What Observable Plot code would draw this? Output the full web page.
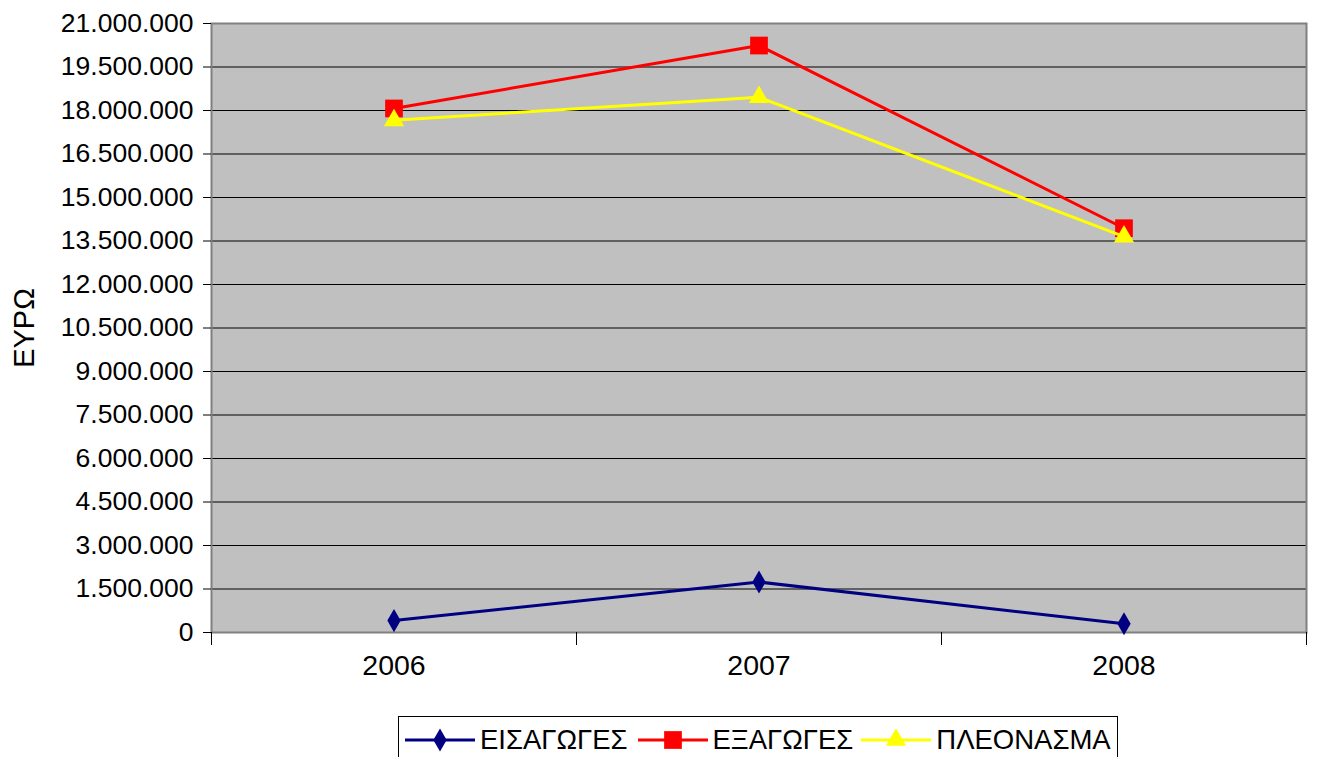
<!DOCTYPE html>
<html>
<head>
<meta charset="utf-8">
<script src="https://cdn.jsdelivr.net/npm/d3@7"></script>
<script src="https://cdn.jsdelivr.net/npm/@observablehq/plot@0.6"></script>
<style>
  html, body { margin: 0; padding: 0; background: #fff; }
  body { width: 1317px; height: 757px; overflow: hidden; position: relative; font-family: "Liberation Sans", Arial, sans-serif; }
  #legend { position: absolute; left: 398px; top: 716px; width: 720px; height: 50px; border: 1px solid #000; box-sizing: border-box; display: flex; align-items: flex-start; padding-top: 8px; }
  #legend .item { display: flex; align-items: center; font-size: 27.5px; color: #000; line-height: 30px; }
  #legend svg { display: block; }
</style>
</head>
<body>
<div id="chart"></div>
<div id="legend"></div>
<script>
const years = [2006, 2007, 2008];
const seriesNames = ["ΕΙΣΑΓΩΓΕΣ", "ΕΞΑΓΩΓΕΣ", "ΠΛΕΟΝΑΣΜΑ"];
const imports = [410000, 1740000, 300000];
const exportsV = [18070000, 20240000, 13940000];
const surplus = [17660000, 18460000, 13650000];
const yTicks = d3.range(0, 21000001, 1500000);

const colors = ["#000080", "#FF0000", "#FFFF00"];
const symbols = ["diamond", "square", "triangle"];
const radii = [7, 10, 7.5];
const values = [imports, exportsV, surplus];

const locale = d3.formatLocale({decimal: ",", thousands: ".", grouping: [3], currency: ["", " €"]});
const fmt = locale.format(",d");

const series = seriesNames.map((name, i) => years.map((yr, j) => ({series: name, year: yr, value: values[i][j]})));
const boundaries = years.map(y => y - 0.5).concat([years[years.length - 1] + 0.5]);

const marks = [
  Plot.frame({fill: "#C0C0C0", stroke: null}),
  Plot.gridY(yTicks.slice(1, -1), {stroke: "#000", strokeOpacity: 1, strokeWidth: 1}),
  Plot.frame({stroke: "#808080", strokeWidth: 2}),
  Plot.axisY(yTicks, {tickSize: 8, tickPadding: 10, tickFormat: fmt, fontSize: 26.5, label: null, stroke: "#000"}),
  Plot.axisX(boundaries, {tickSize: 13, tickFormat: () => "", label: null, stroke: "#000"}),
  Plot.axisX(years, {tickSize: 0, tickPadding: 22, tickFormat: d => String(d), fontSize: 28.5, label: null}),
  Plot.text(["ΕΥΡΩ"], {frameAnchor: "left", textAnchor: "middle", dx: -187, rotate: -90, fontSize: 29, fill: "#000"})
];
series.forEach((s, i) => {
  marks.push(Plot.line(s, {x: "year", y: "value", stroke: colors[i], strokeWidth: 3}));
  marks.push(Plot.dot(s, {x: "year", y: "value", symbol: () => symbols[i], r: radii[i], fill: colors[i], stroke: null}));
});

const chart = Plot.plot({
  width: 1317,
  height: 700,
  marginLeft: 211,
  marginRight: 11,
  marginTop: 23,
  marginBottom: 68,
  style: {fontFamily: "'Liberation Sans', Arial, sans-serif", color: "#000", background: "#fff", overflow: "visible"},
  x: {domain: [years[0] - 0.5, years[years.length - 1] + 0.5], axis: null},
  y: {domain: [0, 21000000], axis: null},
  symbol: {type: "identity"},
  marks
});
document.getElementById("chart").appendChild(chart);

// Legend
const legend = document.getElementById("legend");
const swW = 70, swH = 30;
const gaps = [6, 10, 8];
seriesNames.forEach((name, i) => {
  const item = document.createElement("div");
  item.className = "item";
  item.style.marginLeft = gaps[i] + "px";
  const svg = d3.create("svg").attr("width", swW).attr("height", swH);
  svg.append("line").attr("x1", 0).attr("x2", swW).attr("y1", swH / 2).attr("y2", swH / 2)
    .attr("stroke", colors[i]).attr("stroke-width", 3);
  const sym = {diamond: d3.symbolDiamond, square: d3.symbolSquare, triangle: d3.symbolTriangle}[symbols[i]];
  svg.append("path").attr("transform", `translate(${swW / 2},${swH / 2})`)
    .attr("d", d3.symbol(sym, Math.PI * radii[i] * radii[i])()).attr("fill", colors[i]);
  item.appendChild(svg.node());
  const span = document.createElement("span");
  span.textContent = name;
  span.style.marginLeft = "5px";
  item.appendChild(span);
  legend.appendChild(item);
});
</script>
</body>
</html>
